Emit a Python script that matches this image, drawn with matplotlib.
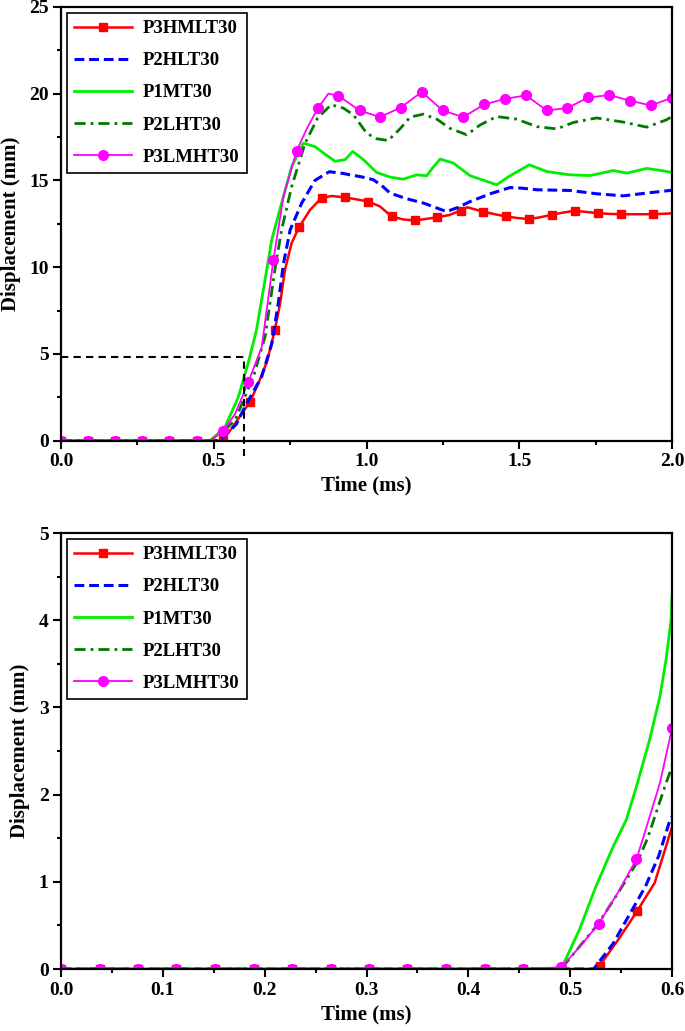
import matplotlib
matplotlib.use("Agg")
import matplotlib.pyplot as plt
from matplotlib.ticker import MultipleLocator, FormatStrFormatter

plt.rcParams['font.family'] = ['Liberation Serif', 'DejaVu Serif']
plt.rcParams['font.weight'] = 'bold'
plt.rcParams['axes.labelweight'] = 'bold'

# ---------------- top panel: 0 - 2 ms ----------------
top_t_red = [0, 0.089, 0.178, 0.266, 0.355, 0.444, 0.52, 0.531, 0.57, 0.619, 0.646, 0.675,
             0.700, 0.717, 0.733, 0.755, 0.779, 0.815, 0.853, 0.886, 0.930, 0.970, 1.006,
             1.044, 1.082, 1.120, 1.157, 1.195, 1.232, 1.270, 1.308, 1.330, 1.382, 1.420,
             1.457, 1.495, 1.532, 1.570, 1.606, 1.645, 1.682, 1.720, 1.757, 1.795, 1.832,
             1.885, 1.939, 2.0]
top_red = [0, 0, 0, 0, 0, 0, 0, 0.04, 1.0, 2.25, 3.3, 4.6,
           6.4, 7.9, 9.85, 11.4, 12.3, 13.3, 14.0, 14.1, 14.02, 13.9, 13.78,
           13.5, 12.92, 12.75, 12.69, 12.78, 12.88, 13.0, 13.26, 13.45, 13.2, 13.05,
           12.92, 12.83, 12.77, 12.88, 13.02, 13.15, 13.25, 13.18, 13.11, 13.07, 13.05,
           13.05, 13.05, 13.1]
top_red_marks = [0, 1, 2, 3, 4, 5, 7, 9, 12, 16, 18, 20, 22, 24, 26, 28, 30, 32, 34, 36,
                 38, 40, 42, 44, 46]

top_t_blue = [0, 0.52, 0.574, 0.602, 0.657, 0.690, 0.711, 0.728, 0.750, 0.788, 0.831, 0.878,
              0.924, 0.946, 0.985, 1.022, 1.05, 1.077, 1.13, 1.187, 1.262, 1.30, 1.339,
              1.405, 1.470, 1.51, 1.557, 1.666, 1.753, 1.841, 1.917, 1.993, 2.0]
top_blue = [0, 0, 0.95, 1.96, 3.7, 5.6, 7.9, 10.2, 12.15, 13.7, 15.0, 15.5,
            15.4, 15.32, 15.2, 15.04, 14.7, 14.27, 13.95, 13.69, 13.2, 13.45, 13.78,
            14.23, 14.59, 14.55, 14.46, 14.42, 14.23, 14.11, 14.27, 14.42, 14.45]

top_t_green = [0, 0.488, 0.51, 0.537, 0.580, 0.613, 0.640, 0.668, 0.690, 0.722, 0.755,
               0.793, 0.831, 0.865, 0.897, 0.930, 0.955, 0.990, 1.033, 1.077, 1.120, 1.164,
               1.197, 1.215, 1.241, 1.284, 1.339, 1.426, 1.470, 1.533, 1.590, 1.666,
               1.732, 1.808, 1.852, 1.917, 1.972, 2.0]
top_green = [0, 0, 0.35, 0.8, 2.5, 4.5, 6.4, 9.3, 11.6, 13.7, 15.8,
             17.15, 16.95, 16.5, 16.1, 16.2, 16.67, 16.19, 15.46, 15.19, 15.07, 15.32,
             15.27, 15.7, 16.23, 16.0, 15.27, 14.75, 15.27, 15.9, 15.51, 15.32,
             15.28, 15.57, 15.42, 15.69, 15.55, 15.45]

top_t_dkgreen = [0, 0.49, 0.53, 0.570, 0.630, 0.668, 0.700, 0.722, 0.755, 0.799, 0.84,
                 0.884, 0.924, 0.957, 1.0, 1.033, 1.071, 1.111, 1.143, 1.186, 1.230, 1.273,
                 1.328, 1.372, 1.426, 1.492, 1.557, 1.623, 1.677, 1.753, 1.841, 1.917,
                 1.983, 2.0]
top_dkgreen = [0, 0, 0.5, 1.2, 3.7, 6.0, 9.85, 12.15, 14.65, 17.15, 18.6,
               19.36, 19.17, 18.78, 17.73, 17.4, 17.3, 18.0, 18.65, 18.82, 18.53, 18.0,
               17.63, 18.2, 18.68, 18.53, 18.1, 17.97, 18.34, 18.6, 18.36, 18.07,
               18.5, 18.7]

top_t_mag = [0, 0.089, 0.178, 0.266, 0.355, 0.444, 0.49, 0.531, 0.57, 0.613, 0.657, 0.695,
             0.728, 0.771, 0.805, 0.842, 0.875, 0.908, 0.977, 1.044, 1.112, 1.181, 1.249,
             1.317, 1.385, 1.453, 1.522, 1.590, 1.657, 1.726, 1.795, 1.862, 1.930, 1.999]
top_mag = [0, 0, 0, 0, 0, 0, 0, 0.56, 1.55, 3.37, 5.4, 10.4,
           14.07, 16.7, 18.0, 19.2, 20.0, 19.88, 19.03, 18.65, 19.2, 20.1, 19.03,
           18.65, 19.38, 19.7, 19.9, 19.03, 19.17, 19.78, 19.92, 19.6, 19.32, 19.75]
top_mag_marks = [0, 1, 2, 3, 4, 5, 7, 9, 11, 13, 15, 17, 18, 19, 20, 21, 22, 23, 24, 25,
                 26, 27, 28, 29, 30, 31, 32, 33]

# reference lines (t = 0.6 ms, d = 4.8 mm)
ref_t = [0, 0.6, 0.6]
ref_d = [4.8, 4.8, -0.9]

# ---------------- bottom panel: 0 - 0.6 ms ----------------
flat_t = [0, 0.038, 0.076, 0.113, 0.151, 0.189, 0.227, 0.265, 0.302, 0.340, 0.378, 0.416, 0.454]

bot_t_red = flat_t + [0.491, 0.523, 0.529, 0.548, 0.566, 0.583, 0.6]
bot_red = [0] * 13 + [0, 0, 0.04, 0.35, 0.67, 0.99, 1.63]
bot_red_marks = list(range(14)) + [15, 17]

bot_t_blue = [0, 0.523, 0.542, 0.557, 0.574, 0.587, 0.598, 0.6]
bot_blue = [0, 0, 0.29, 0.6, 0.95, 1.30, 1.71, 1.75]

bot_t_green = [0, 0.491, 0.509, 0.525, 0.542, 0.555, 0.565, 0.578, 0.588, 0.594, 0.599, 0.6]
bot_green = [0, 0, 0.45, 0.94, 1.40, 1.71, 2.09, 2.63, 3.12, 3.54, 4.0, 4.28]

bot_t_dkgreen = [0, 0.491, 0.51, 0.527, 0.549, 0.566, 0.576, 0.594, 0.6]
bot_dkgreen = [0, 0, 0.27, 0.51, 0.91, 1.23, 1.50, 2.13, 2.32]

bot_t_mag = flat_t + [0.491, 0.509, 0.528, 0.547, 0.565, 0.571, 0.588, 0.6]
bot_mag = [0] * 13 + [0.02, 0.25, 0.52, 0.88, 1.26, 1.48, 2.13, 2.76]
bot_mag_marks = list(range(14)) + [15, 17, 20]

names = ['P3HMLT30', 'P2HLT30', 'P1MT30', 'P2LHT30', 'P3LMHT30']


def draw_series(ax, t_red, red, red_marks, t_blue, blue, t_green, green,
                t_dk, dk, t_mag, mag, mag_marks):
    ax.plot(t_red, red, color='#ff0000', lw=1.8, marker='s', ms=6,
            markevery=red_marks, label=names[0])
    ax.plot(t_blue, blue, color='#0000ff', lw=2.2, ls=(0, (3.2, 1.6)), label=names[1])
    ax.plot(t_green, green, color='#00ee00', lw=2.0, label=names[2])
    ax.plot(t_dk, dk, color='#007a00', lw=2.0, ls=(0, (4, 1.8, 1, 1.8)), label=names[3])
    ax.plot(t_mag, mag, color='#ff00ff', lw=1.3, marker='o', ms=7,
            markevery=mag_marks, label=names[4])


def style_axes(ax, xmaj, ymaj, xfmt, yfmt):
    ax.xaxis.set_major_locator(MultipleLocator(xmaj))
    ax.xaxis.set_minor_locator(MultipleLocator(xmaj / 2))
    ax.yaxis.set_major_locator(MultipleLocator(ymaj))
    ax.yaxis.set_minor_locator(MultipleLocator(ymaj / 2))
    ax.xaxis.set_major_formatter(FormatStrFormatter(xfmt))
    ax.yaxis.set_major_formatter(FormatStrFormatter(yfmt))
    ax.tick_params(which='major', direction='out', length=5.5, width=1.5, labelsize=14)
    ax.tick_params(which='minor', direction='out', length=3, width=1.5)
    for s in ax.spines.values():
        s.set_linewidth(1.6)
    ax.set_xlabel('Time (ms)', fontsize=15)
    ax.set_ylabel('Displacement (mm)', fontsize=15, labelpad=6)
    leg = ax.legend(loc='upper left', fontsize=13.5, handlelength=3.1, handletextpad=0.55,
                    labelspacing=0.8, borderpad=0.4, borderaxespad=0.3, numpoints=1,
                    fancybox=False, framealpha=1, edgecolor='black')
    leg.get_frame().set_linewidth(1.2)


fig = plt.figure(figsize=(6.85, 10.31), dpi=100)

ax1 = fig.add_axes([0.0891, 0.5726, 0.892, 0.4207])
draw_series(ax1, top_t_red, top_red, top_red_marks, top_t_blue, top_blue,
            top_t_green, top_green, top_t_dkgreen, top_dkgreen,
            top_t_mag, top_mag, top_mag_marks)
ax1.plot(ref_t, ref_d, color='black', lw=1.5, ls=(0, (3.5, 2.5)), clip_on=False)
ax1.set_xlim(0, 2.0)
ax1.set_ylim(0, 25)
style_axes(ax1, 0.5, 5, '%.1f', '%d')

ax2 = fig.add_axes([0.0891, 0.0601, 0.892, 0.4229])
draw_series(ax2, bot_t_red, bot_red, bot_red_marks, bot_t_blue, bot_blue,
            bot_t_green, bot_green, bot_t_dkgreen, bot_dkgreen,
            bot_t_mag, bot_mag, bot_mag_marks)
ax2.set_xlim(0, 0.6)
ax2.set_ylim(0, 5)
style_axes(ax2, 0.1, 1, '%.1f', '%d')

fig.savefig('out.png', dpi=100)
